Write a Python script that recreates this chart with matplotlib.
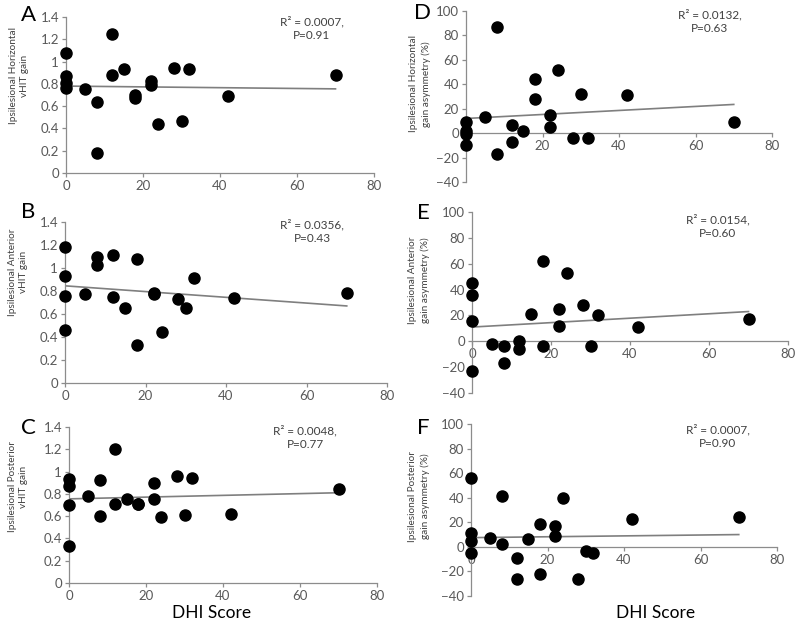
import matplotlib
matplotlib.use('Agg')
import matplotlib.pyplot as plt
import numpy as np

plt.rcParams['font.family'] = ['Lato', 'DejaVu Sans']

# DHI score (same for all panels)
dhi = [0, 0, 0, 0, 5, 8, 8, 12, 12, 15, 18, 18, 22, 22, 24, 28, 30, 32, 42, 70]

gain_horizontal = [1.08, 0.87, 0.81, 0.76, 0.75, 0.64, 0.18, 1.25, 0.88, 0.93,
                   0.70, 0.67, 0.83, 0.79, 0.44, 0.94, 0.47, 0.93, 0.69, 0.88]
gain_anterior = [1.18, 0.93, 0.76, 0.46, 0.77, 1.10, 1.03, 1.11, 0.75, 0.65,
                 1.08, 0.33, 0.78, 0.77, 0.44, 0.73, 0.65, 0.91, 0.74, 0.78]
gain_posterior = [0.93, 0.87, 0.70, 0.33, 0.78, 0.92, 0.60, 1.20, 0.71, 0.75,
                  0.71, 0.71, 0.90, 0.75, 0.59, 0.96, 0.61, 0.94, 0.62, 0.84]

asym_horizontal = [9, 2, -1, -10, 13, 87, -17, 7, -7, 2,
                   44, 28, 15, 5, 52, -4, 32, -4, 31, 9]
asym_anterior = [45, 36, 16, -23, -2, -4, -17, 0, -6, 21,
                 62, -4, 25, 12, 53, 28, -4, 20, 11, 17]
asym_posterior = [56, 11, 5, -5, 7, 41, 2, -9, -26, 6,
                  19, -22, 17, 9, 40, -26, -3, -5, 23, 24]

# trend lines: (value at DHI 0, value at DHI 70)
trend_ends = {
    'A': (0.78, 0.755), 'B': (0.845, 0.67), 'C': (0.755, 0.81),
    'D': (12, 23.5), 'E': (11, 23), 'F': (7.5, 10),
}

panels = [
    # letter, y values, ylabel, stats, axes box (pixels: left, right, top, bottom), gain?
    ('A', gain_horizontal, 'Ipsilesional Horizontal\nvHIT gain', 'R² = 0.0007,\nP=0.91', (66, 374, 17, 173), True),
    ('B', gain_anterior, 'Ipsilesional Anterior\nvHIT gain', 'R² = 0.0356,\nP=0.43', (65, 387, 222, 383), True),
    ('C', gain_posterior, 'Ipsilesional Posterior\nvHIT gain', 'R² = 0.0048,\nP=0.77', (69, 377, 427, 583), True),
    ('D', asym_horizontal, 'Ipsilesional Horizontal\ngain asymmetry (%)', 'R² = 0.0132,\nP=0.63', (466, 772, 11, 182), False),
    ('E', asym_anterior, 'Ipsilesional Anterior\ngain asymmetry (%)', 'R² = 0.0154,\nP=0.60', (472, 788, 212, 393), False),
    ('F', asym_posterior, 'Ipsilesional Posterior\ngain asymmetry (%)', 'R² = 0.0007,\nP=0.90', (471, 777, 424, 596), False),
]

# label positions in pixels: panel letter, ylabel centre, stats text centre
text_pos = {
    'A': ((28, 15), (19, 76), (312, 28)),
    'B': ((28, 212), (18, 272), (312, 231)),
    'C': ((28, 428), (18, 487), (305, 437)),
    'D': ((422, 13), (420, 84), (710, 21)),
    'E': ((423, 213), (419, 280), (718, 226)),
    'F': ((423, 428), (419, 496), (718, 436)),
}

W, H = 800, 624
fig = plt.figure(figsize=(W / 100, H / 100), dpi=100)
grey = '#8c8c8c'
tick_col = '#595959'

for letter, yvals, ylabel, stats, box, is_gain in panels:
    l, r, t, b = box
    ax = fig.add_axes([l / W, 1 - b / H, (r - l) / W, (b - t) / H])
    ax.scatter(dhi, yvals, s=64, color='black', zorder=3, clip_on=False)
    y0, y1 = trend_ends[letter]
    ax.plot([0, 70], [y0, y1], color='#7f7f7f', lw=1.2, zorder=2)

    ax.set_xlim(0, 80)
    ax.set_xticks([0, 20, 40, 60, 80])
    if is_gain:
        ax.set_ylim(0, 1.4)
        ax.set_yticks([0, 0.2, 0.4, 0.6, 0.8, 1, 1.2, 1.4])
        ax.set_yticklabels(['0', '0.2', '0.4', '0.6', '0.8', '1', '1.2', '1.4'])
    else:
        ax.set_ylim(-40, 100)
        ax.set_yticks(range(-40, 101, 20))
        ax.spines['bottom'].set_position(('data', 0))

    for side in ('top', 'right'):
        ax.spines[side].set_visible(False)
    for side in ('left', 'bottom'):
        ax.spines[side].set_color(grey)
        ax.spines[side].set_linewidth(0.9)
    ax.tick_params(colors=grey, labelcolor=tick_col, labelsize=9.5,
                   length=3, width=0.9, direction='out', pad=2)
    ax.patch.set_alpha(0)

    (lx, ly), (yx, yy), (sx, sy) = text_pos[letter]
    fig.text(lx / W, 1 - ly / H, letter, fontsize=16, ha='center', va='center')
    fig.text(yx / W, 1 - yy / H, ylabel, fontsize=7.2, rotation=90,
             ha='center', va='center', color='#404040', linespacing=1.35)
    fig.text(sx / W, 1 - sy / H, stats, fontsize=8.5, ha='center', va='center',
             color='#404040', linespacing=1.3)

fig.text(212 / W, 1 - 613 / H, 'DHI Score', fontsize=12.5, ha='center', va='center')
fig.text(656 / W, 1 - 613 / H, 'DHI Score', fontsize=12.5, ha='center', va='center')

plt.savefig('out.png', dpi=100, facecolor='white')
